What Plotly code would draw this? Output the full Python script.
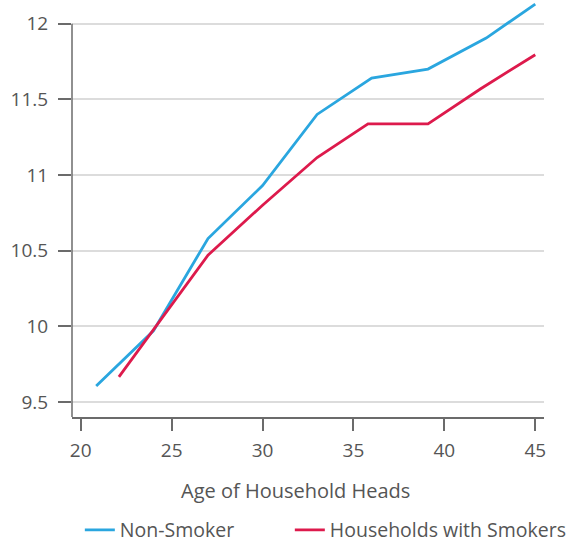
import plotly.graph_objects as go

non_smoker_age = [20.85, 24, 27, 30, 33, 36, 39.1, 42.3, 45]
non_smoker_val = [9.605, 9.97, 10.58, 10.93, 11.40, 11.64, 11.70, 11.905, 12.13]
smoker_age = [22.1, 24, 27, 30, 33, 35.8, 39.1, 42, 45]
smoker_val = [9.665, 9.98, 10.47, 10.80, 11.115, 11.338, 11.338, 11.57, 11.795]
x_ticks = [20, 25, 30, 35, 40, 45]
y_ticks = [9.5, 10, 10.5, 11, 11.5, 12]
y_tick_text = ["9.5", "10", "10.5", "11", "11.5", "12"]
x_title = "Age of Household Heads"

FONT = "Open Sans"
GRAY = "#555555"
AXIS = "#6b6b6b"

fig = go.Figure()
fig.add_trace(go.Scatter(x=non_smoker_age, y=non_smoker_val, mode="lines",
                         name="Non-Smoker", legend="legend",
                         line=dict(color="#2AA6DF", width=2.8)))
fig.add_trace(go.Scatter(x=smoker_age, y=smoker_val, mode="lines",
                         name="Households with Smokers", legend="legend2",
                         line=dict(color="#DD1A4C", width=2.8)))

leg_common = dict(orientation="h", xanchor="left", y=-0.225, yanchor="top",
                  font=dict(size=19.5, color=GRAY), itemwidth=30,
                  bgcolor="rgba(0,0,0,0)")

fig.update_layout(
    width=574, height=542,
    margin=dict(l=72, r=30, t=1, b=125, autoexpand=False),
    plot_bgcolor="white", paper_bgcolor="white",
    font=dict(family=FONT, color=GRAY, size=19),
    showlegend=True,
    legend=dict(x=0.0166, **leg_common),
    legend2=dict(x=0.4615, **leg_common),
    xaxis=dict(range=[19.52, 45.48], tickvals=x_ticks, showgrid=False, zeroline=False,
               showline=True, linecolor=AXIS, linewidth=1.5, automargin=False,
               ticks="outside", ticklen=12, tickwidth=1.5, tickcolor=AXIS,
               ticklabelstandoff=3, tickfont=dict(size=19, color=GRAY)),
    yaxis=dict(range=[9.4, 12.15], tickvals=y_ticks, ticktext=y_tick_text,
               showgrid=True, gridcolor="#dcdcdc", gridwidth=1.5, zeroline=False, automargin=False,
               showline=False, ticks="outside", ticklen=13, tickwidth=1.5, tickcolor=AXIS,
               ticklabelstandoff=6, tickfont=dict(size=19, color=GRAY)),
)
fig.add_annotation(text=x_title, xref="paper", yref="paper", x=0.4725, y=-0.1755,
                   xanchor="center", yanchor="middle", showarrow=False,
                   font=dict(size=20, color=GRAY))
fig.add_shape(type="line", xref="paper", x0=0, x1=0, yref="y", y0=9.4, y1=12,
              line=dict(color=AXIS, width=1.5))

fig.write_html("out.html", config={"displayModeBar": False},
               post_script="document.body.style.margin='0';")
